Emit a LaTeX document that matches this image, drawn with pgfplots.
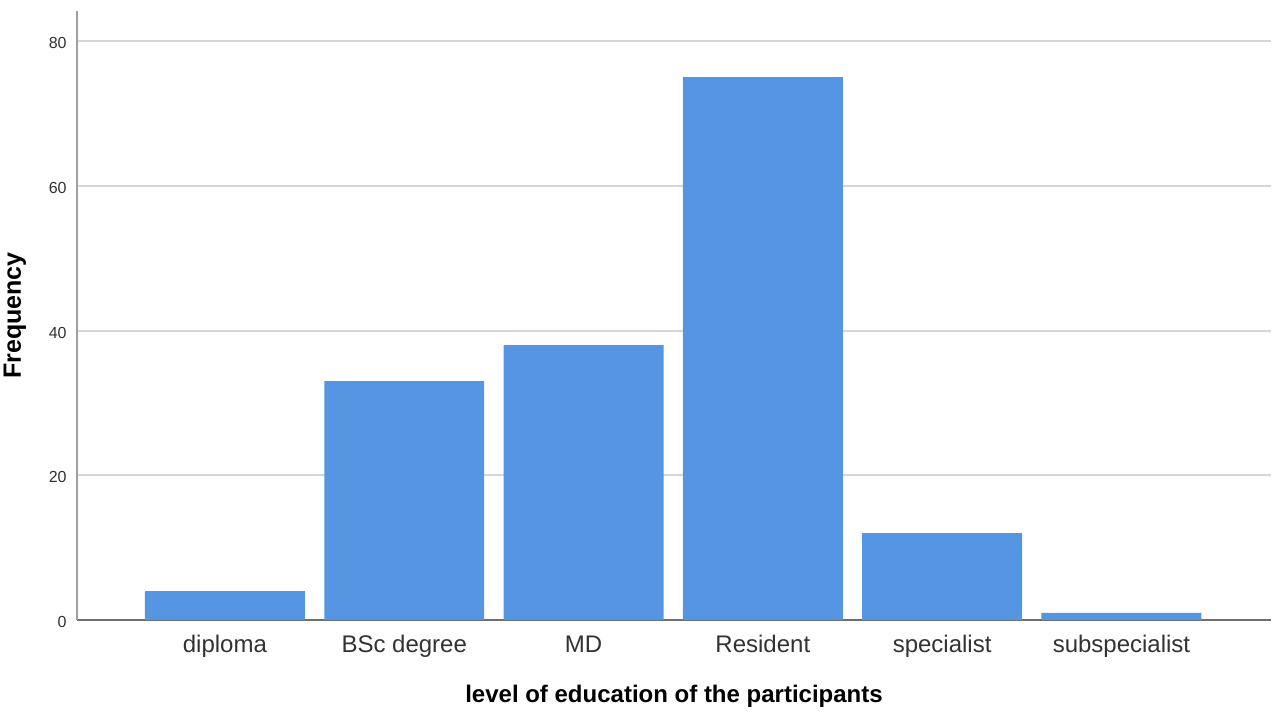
\documentclass[border=0pt]{standalone}
\usepackage{fontspec}
\setmainfont{Liberation Sans}
\usepackage{pgfplots}
\pgfplotsset{compat=1.18}

\definecolor{barblue}{RGB}{85,149,226}
\definecolor{gridgray}{RGB}{214,214,214}
\definecolor{yaxisgray}{RGB}{160,160,160}
\definecolor{xaxisgray}{RGB}{110,110,110}
\definecolor{labelgray}{RGB}{50,50,50}

\begin{document}
\begin{tikzpicture}
% 1 px of the 1280x720 reference = 0.5pt
\useasboundingbox (-38.5pt,-50pt) rectangle (601.5pt,310pt);
\begin{axis}[
  at={(0,0)}, anchor=south west,
  scale only axis,
  width=597pt, height=304.5pt,
  xmin=-0.825, xmax=5.834,
  ymin=0, ymax=84.15,
  axis lines*=left,
  x axis line style={color=xaxisgray, line width=1pt},
  y axis line style={color=yaxisgray, line width=1pt},
  major tick length=0pt,
  xtick={0,1,2,3,4,5},
  xticklabels={diploma, BSc degree, MD, Resident, specialist, subspecialist},
  ytick={0,20,40,60,80},
  ymajorgrids=true,
  grid style={color=gridgray, line width=1pt},
  /pgf/number format/assume math mode=true,
  xticklabel style={font=\fontsize{12pt}{14pt}\selectfont, color=labelgray,
    anchor=base, yshift=-16pt},
  yticklabel style={font=\fontsize{8pt}{10pt}\selectfont, color=labelgray,
    anchor=east, inner sep=0pt, xshift=-5pt, yshift=-1pt},
  xlabel={level of education of the participants},
  ylabel={Frequency},
  xlabel style={font=\fontsize{12pt}{14pt}\selectfont\bfseries,
    at={(axis description cs:0.5,0)}, anchor=base, yshift=-41pt},
  ylabel style={font=\fontsize{12.5pt}{14pt}\selectfont\bfseries,
    at={(axis description cs:-0.052,0.5)}, anchor=center, rotate=0},
  clip=false,
]
\addplot[ybar, bar width=0.892, fill=barblue, draw=none] coordinates {
  (0,4) (1,33) (2,38) (3,75) (4,12) (5,1)
};
\end{axis}
\end{tikzpicture}
\end{document}
